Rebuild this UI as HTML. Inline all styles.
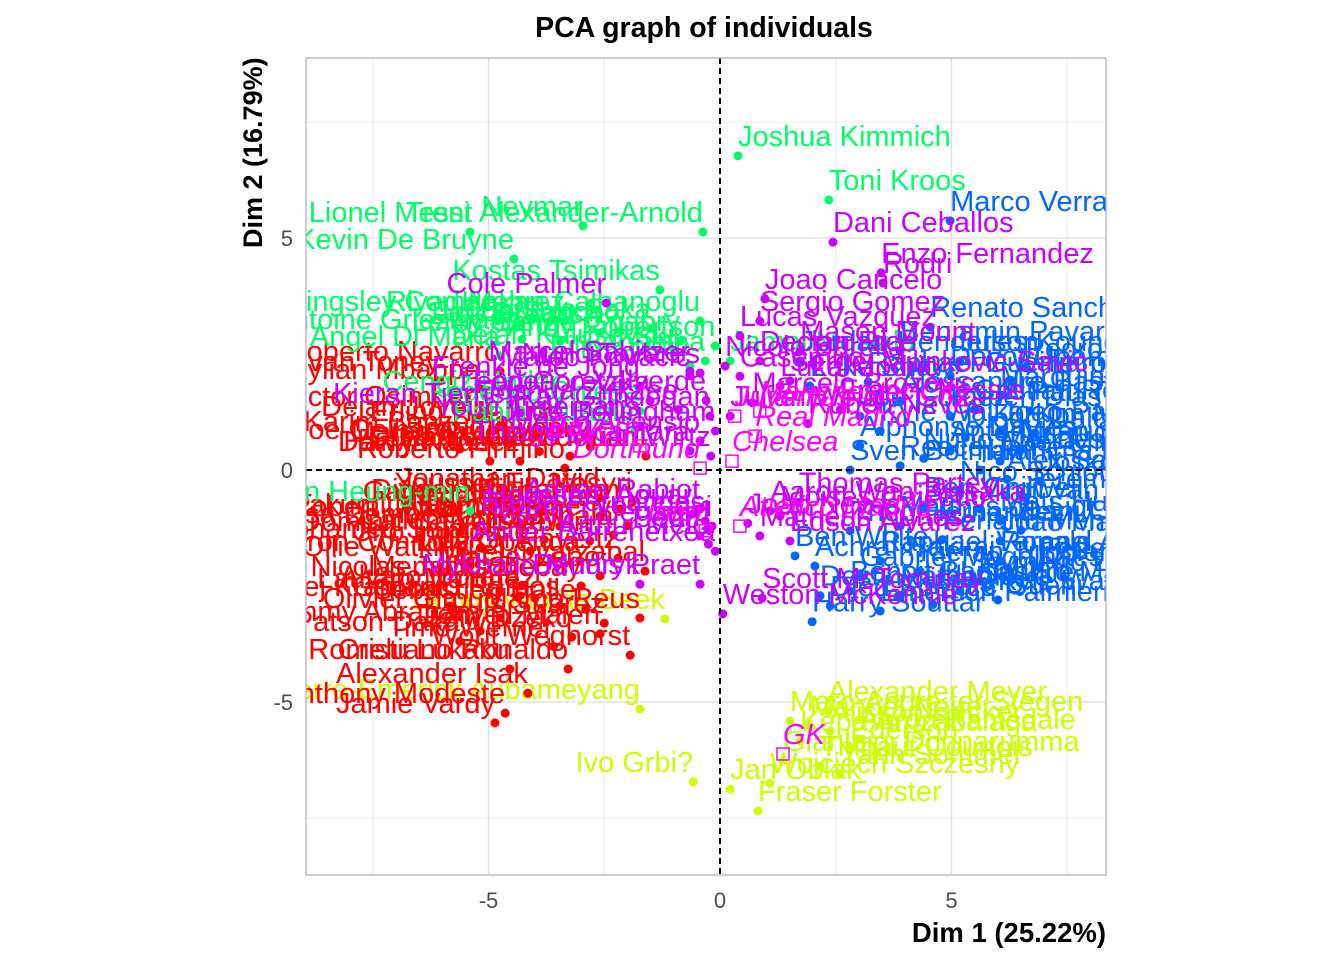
<!DOCTYPE html>
<html><head><meta charset="utf-8">
<style>
html,body{margin:0;padding:0;background:#fff;}
svg{display:block;font-family:"Liberation Sans",Arial,sans-serif;}
</style></head>
<body>
<svg id="chart" width="1344" height="960" viewBox="0 0 1344 960" xmlns="http://www.w3.org/2000/svg">
<defs><clipPath id="panelClip"><rect x="306" y="58" width="800" height="817"/></clipPath></defs>
<rect x="0" y="0" width="1344" height="960" fill="#fff"/>
<text x="704" y="37" text-anchor="middle" font-size="28.5" font-weight="bold" fill="#000">PCA graph of individuals</text>
<g id="grid"></g>
<g id="marks" clip-path="url(#panelClip)"></g>
<rect x="306" y="58" width="800" height="817" fill="none" stroke="#b3b3b3" stroke-width="1.3"/>
<g id="ticks"></g>
<text x="1106" y="942" text-anchor="end" font-size="27.5" font-weight="bold" fill="#000">Dim 1 (25.22%)</text>
<text transform="translate(262,248) rotate(-90)" text-anchor="start" font-size="27" font-weight="bold" fill="#000">Dim 2 (16.79%)</text>
</svg>
<script>
// ---- data (Dim1, Dim2) ----
const wingers = [
["Trent Alexander-Arnold",-0.37,5.13],["Lionel Messi",-5.4,5.13],["Neymar",-2.96,5.26],
["Kevin De Bruyne",-4.45,4.55],["Kostas Tsimikas",-1.3,3.88],["Kingsley Coman",-4.8,3.21],
["Riyad Mahrez",-3.35,3.21],["Hakan Calhanoglu",-0.43,3.21],["Antoine Griezmann",-4.28,2.82],
["Andy Robertson",-0.1,2.67],["Jadon Sancho",-2.16,3.0],["Leroy Sane",-3.46,2.78],
["Serge Gnabry",-0.86,2.78],["Angel Di Maria",-4.75,2.46],["Cengiz Under",-3.46,1.49],
["Federico Chiesa",-1.73,1.27],["Pablo Sarabia",-1.84,0.84],["Filip Kostic",-0.65,2.24],
["Raphinha",-0.32,2.35],["Son Heung-min",-5.4,-0.88],["Jack Grealish",-2.6,2.95],
["Bukayo Saka",-1.5,3.05],["Dejan Kulusevski",-1.0,2.5],
["Joshua Kimmich",0.39,6.77],["Toni Kroos",2.35,5.82],["Jamal Musiala",0.22,2.35]
];
const midfielders = [
["Cole Palmer",-2.46,3.6],["Nuno Tavares",-0.43,2.09],["Mateo Kovacic",-0.65,2.03],
["Frenkie de Jong",-1.73,1.81],["Kieran Tierney",-4.32,1.23],["Ilkay Gundogan",-0.22,1.16],
["Marco Asensio",-0.43,0.63],["Jude Bellingham",-0.1,0.84],["Thiago Alcantara",-0.65,0.41],
["Leon Goretzka",-1.51,1.49],["Marcel Sabitzer",-0.65,2.13],["Youri Tielemans",-1.73,0.95],
["Federico Valverde",-0.3,1.5],["Joshua Zirkzee",-0.9,1.3],["Florian Wirtz",-0.2,0.3],
["Adrien Rabiot",-0.43,-0.84],["Ander Barrenetxea",-0.1,-1.75],["Dennis Praet",-0.43,-2.46],
["Mykhailo Mudryk",-1.73,-2.46],["Martin Odegaard",-0.22,-1.31],["Bruno Fernandes",-0.32,-1.1],
["Pedri",-0.43,-1.42],["Gavi",-0.17,-1.21],["Houssem Aouar",-0.6,-0.95],["Arthur Melo",-0.25,-1.6],
["Dani Ceballos",2.44,4.91],["Enzo Fernandez",3.48,4.25],["Rodri",3.52,4.03],
["Joao Cancelo",0.97,3.69],["Sergio Gomez",0.86,3.21],["Lucas Vazquez",0.43,2.89],
["Nicolo Barella",0.11,2.24],["Julian Weigl",0.22,1.16],["Casemiro",0.43,2.02],
["Declan Rice",0.86,2.35],["Mason Mount",1.73,2.56],["Luka Modric",1.3,1.81],
["Sergej Milinkovic-Savic",1.51,1.92],["Aaron Wan-Bissaka",1.08,-0.88],["Matheus Nunes",0.86,-1.42],
["Scott McTominay",0.91,-2.76],["Weston McKennie",0.06,-3.1],["Moises Caicedo",1.3,-0.99],
["Edson Alvarez",1.51,-1.53],["Marcelo Brozovic",0.7,1.45],["Ruben Neves",1.9,1.0],
["Franck Kessie",2.6,1.3],["Joao Neves",0.6,-1.15],["Thomas Partey",1.7,-0.7]
];
const defenders = [
["Marco Verratti",4.97,5.37],["Renato Sanches",4.54,3.08],["Benjamin Pavard",3.89,2.56],
["Jules Kounde",5.18,2.35],["Dayot Upamecano",4.97,2.03],["Jordan Henderson",1.73,2.35],
["Luke Shaw",1.94,1.81],["Alessandro Bastoni",3.89,1.49],["Marquinhos",6.05,1.6],
["Ruben Dias",4.97,1.16],["Kyle Walker",3.46,0.84],["Joao Palhinha",6.05,0.84],
["Alphonso Davies",3.02,0.52],["Antonio Rudiger",4.97,0.41],["Eder Militao",6.05,0.19],
["Reece James",3.89,0.09],["Sven Botman",2.81,0.0],["Ibrahima Konate",5.62,0.0],
["Virgil van Dijk",5.62,-0.84],["Matthijs de Ligt",3.89,-1.21],["Theo Hernandez",2.81,-1.31],
["Joao Mario",6.05,-1.53],["Ben White",1.62,-1.85],["Achraf Hakimi",2.05,-2.07],
["Raphael Varane",3.46,-1.96],["Gabriel Magalhaes",3.02,-2.28],["Kieran Trippier",4.32,-2.18],
["Aymeric Laporte",5.62,-2.39],["Benoit Badiashile",2.81,-2.61],["Destiny Udogie",2.16,-2.71],
["Nathan Ake",3.89,-2.71],["Lisandro Martinez",5.18,-2.61],["Harry Souttar",1.99,-3.27],
["Djed Spence",2.38,-2.93],["Emerson Palmieri",3.46,-3.04],["Mats Hummels",6.05,-1.1],
["Nico Schlotterbeck",5.18,-0.45],["Milan Skriniar",6.48,0.41],["Pau Torres",6.7,1.27],
["Josko Gvardiol",6.91,-0.24],["Ronald Araujo",6.05,-1.96],["Joe Gomez",3.02,1.16],
["Pedro Porro",6.6,2.2],["William Saliba",6.3,1.9],["Cristian Romero",5.5,1.3],
["Kim Min-jae",6.8,0.8],["Diogo Dalot",5.3,0.7],["Nuno Mendes",4.4,0.25],
["Jeremie Frimpong",6.6,-0.6],["Ferland Mendy",4.8,-1.5],["Dani Carvajal",6.5,-1.3],
["Kyle Walker-Peters",6.0,-2.8],["Marc Guehi",4.6,-2.9],["Federico Dimarco",6.9,-2.1],
["Ben Chilwell",4.4,-0.8],["Alex Sandro",6.2,-0.2],["Raphael Guerreiro",3.2,1.9]
];
const forwards = [
["Roberto Firmino",-3.35,0.04],["Roberto Navarro",-4.75,2.13],["Kylian Mbappe",-5.18,1.75],
["Ivan Toney",-6.05,1.92],["Dejan Joveljic",-4.75,0.95],["Joe Gelhardt",-5.62,0.45],
["Darwin Nunez",-4.32,0.19],["Dusan Vlahovic",-3.24,0.3],["Karim Benzema",-4.54,0.63],
["Victor Osimhen",-5.18,1.16],["Erling Haaland",-3.46,0.84],["Harry Kane",-4.97,0.19],
["Diogo Jota",-4.54,-0.84],["Richarlison",-2.16,-0.84],["Takumi Minamino",-4.32,-1.16],
["Mohamed Salah",-5.18,-1.68],["Aaron Connolly",-5.4,-1.96],["Mikel Oyarzabal",-1.62,-2.18],
["Rafael Leao",-2.59,-2.28],["Lautaro Martinez",-4.0,-2.76],["Nicolas Jackson",-4.32,-2.5],
["Goncalo Ramos",-3.46,-2.93],["Marco Reus",-1.73,-3.19],["Donyell Malen",-2.59,-3.53],
["Wout Weghorst",-1.94,-3.99],["Romelu Lukaku",-4.54,-4.29],["Cristiano Ronaldo",-3.28,-4.29],
["Alexander Isak",-4.15,-4.81],["Anthony Modeste",-4.64,-5.24],["Jamie Vardy",-4.86,-5.45],
["Patson Daka",-5.62,-3.69],["Tammy Abraham",-5.18,-3.47],["Olivier Giroud",-4.75,-3.19],
["Ciro Immobile",-4.1,-1.75],["Dominic Calvert-Lewin",-2.81,-1.53],["Ollie Watkins",-5.4,-2.07],
["Robert Lewandowski",-3.46,-1.21],["Gabriel Jesus",-3.89,-0.88],["Alvaro Morata",-4.32,-2.71],
["Andrej Kramaric",-5.83,-2.93],["Moussa Dembele",-5.62,-1.36],["Lois Openda",-3.02,-1.96],
["Eddie Nketiah",-2.59,-0.99],["Paulo Dybala",-2.3,-1.4],["Memphis Depay",-3.0,-2.5],
["Kai Havertz",-2.2,-1.9],["Sebastien Haller",-2.9,-3.0],["Timo Werner",-3.6,-3.8],
["Luis Suarez",-2.5,-3.3],["Edin Dzeko",-3.2,-3.6],["Antoine Semenyo",-2.0,-1.2],
["Callum Wilson",-3.8,-1.5],["Jonathan David",-2.6,-0.6],["Youssef En-Nesyri",-1.9,-0.7],
["Randal Kolo Muani",-1.6,0.3],["Taiwo Awoniyi",-2.8,0.5],["Mateo Retegui",-3.9,0.4]
];
const keepers = [
["Pierre-Emerick Aubameyang",-1.73,-5.15],["Donny van de Beek",-1.19,-3.21],["Ivo Grbi?",-0.58,-6.72],
["Alexander Meyer",2.33,-5.19],["Fraser Forster",0.82,-7.35],["Jan Oblak",0.22,-6.88],
["Wojciech Szczesny",1.08,-6.75],["Gianluigi Donnarumma",1.36,-6.27],["Kepa Arrizabalaga",1.73,-5.84],
["Manuel Neuer",1.94,-5.52],["Alisson Becker",2.38,-5.63],["Ederson",2.81,-6.01],
["Thibaut Courtois",2.16,-6.38],["Marc-Andre ter Stegen",1.51,-5.41],["Yann Sommer",2.59,-6.55],
["Aaron Ramsdale",3.02,-5.8]
];
const supplementary = [
["Manchester City",0.86,1.27],["Real Madrid",0.76,0.73],["Chelsea",0.26,0.19],
["Atletico Madrid",0.43,-1.21],["Bayern",-1.73,0.52],["Dortmund",-0.43,0.04],
["Inter",-0.32,-1.31],["Juventus",0.32,1.16],["GK",1.36,-6.12]
];
const xTicks = [-5, 0, 5];
const yTicks = [-5, 0, 5];
const xMinor = [-7.5, -2.5, 2.5, 7.5];
const yMinor = [-7.5, -2.5, 2.5, 7.5];

// ---- scales ----
const X0 = 720, Y0 = 470, SX = 46.3, SY = 46.4;
function xs(v){ return X0 + v*SX; }
function ys(v){ return Y0 - v*SY; }

const NS = "http://www.w3.org/2000/svg";
function mk(tag, attrs, parent){
  const e = document.createElementNS(NS, tag);
  for (const k in attrs) e.setAttribute(k, attrs[k]);
  parent.appendChild(e); return e;
}
const grid = document.getElementById("grid");
const marks = document.getElementById("marks");
const ticks = document.getElementById("ticks");

xMinor.forEach(v=>{
  const l = mk("line",{x1:xs(v),x2:xs(v),y1:58,y2:875,stroke:"#ececec","stroke-width":1},grid);
  
  
});
yMinor.forEach(v=>{
  const l = mk("line",{x1:306,x2:1106,y1:ys(v),y2:ys(v),stroke:"#ececec","stroke-width":1},grid);
  
  
});
xTicks.forEach(v=>{
  const l = mk("line",{x1:xs(v),x2:xs(v),y1:58,y2:875,stroke:"#dedede","stroke-width":1.3},grid);
  
  
  const t = mk("text",{x:xs(v),y:908,"text-anchor":"middle","font-size":22,fill:"#4d4d4d"},ticks);
  t.textContent = v;
  
  
});
yTicks.forEach(v=>{
  const l = mk("line",{x1:306,x2:1106,y1:ys(v),y2:ys(v),stroke:"#dedede","stroke-width":1.3},grid);
  
  
  const t = mk("text",{x:293,y:ys(v)+8,"text-anchor":"end","font-size":22,fill:"#4d4d4d"},ticks);
  t.textContent = v;
  
  
});

function drawGroup(arr, color, groupName){
  arr.forEach(d=>{
    const px = xs(d[1]), py = ys(d[2]);
    const c = mk("circle",{cx:px,cy:py,r:4.5,fill:color},marks);
    
    
    const t = mk("text",{x:px,y:py-10,"text-anchor":d[1]<0?"end":"start","font-size":29,fill:color},marks);
    t.textContent = d[0];
    
    
  });
}
drawGroup(keepers, "#CCFF00", "goalkeeper");
drawGroup(forwards, "#FF0000", "forward");
drawGroup(wingers, "#00FF66", "winger");
drawGroup(defenders, "#0066FF", "defender");
drawGroup(midfielders, "#CC00FF", "midfielder");

supplementary.forEach(d=>{
  const px = xs(d[1]), py = ys(d[2]);
  const s = mk("rect",{x:px-6,y:py-6,width:12,height:12,fill:"none",stroke:"#FF00FF","stroke-width":1.5},marks);
  
  
  const t = mk("text",{x:px,y:py-10,"text-anchor":d[1]<0?"end":"start","font-size":29,"font-style":"italic",fill:"#FF00FF"},marks);
  t.textContent = d[0];
  
  
});

const vx = mk("line",{x1:xs(0),x2:xs(0),y1:58,y2:875,stroke:"#000","stroke-width":2,"stroke-dasharray":"6,4"},marks);


const hy = mk("line",{x1:306,x2:1106,y1:ys(0),y2:ys(0),stroke:"#000","stroke-width":2,"stroke-dasharray":"6,4"},marks);


</script>
</body></html>
